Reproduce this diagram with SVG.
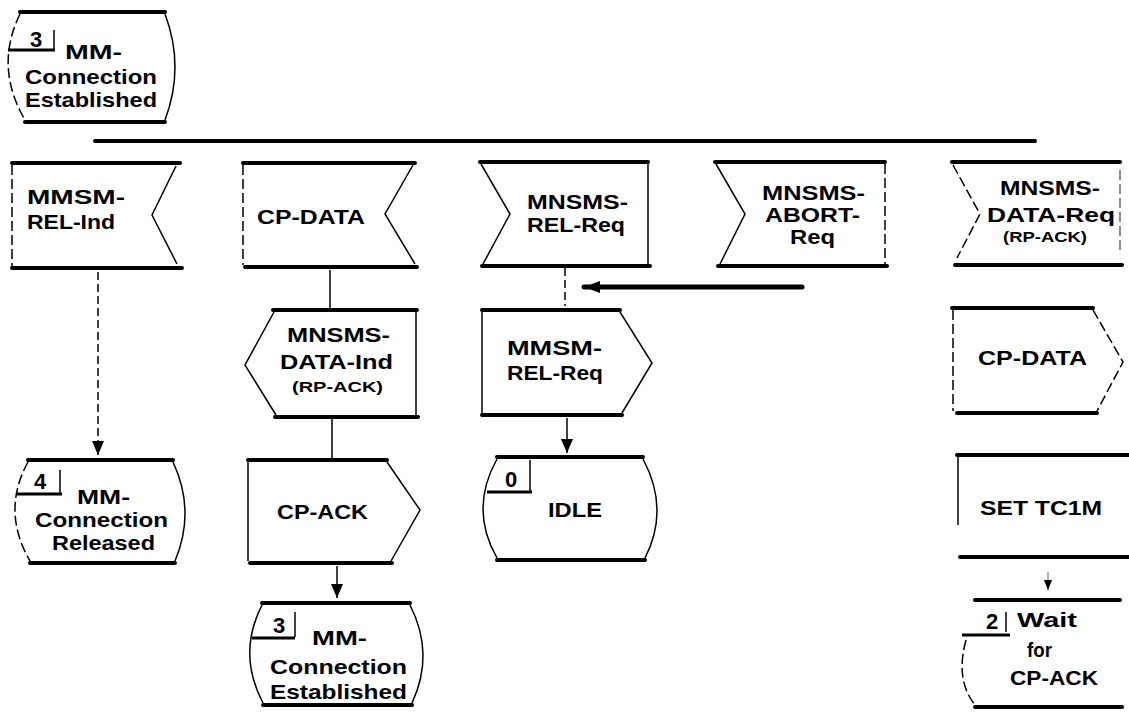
<svg xmlns="http://www.w3.org/2000/svg" width="1129" height="716" viewBox="0 0 1129 716">
<style>
.bg{fill:#fff}
.hb{stroke:#000;stroke-width:4;fill:none;stroke-linecap:round}
.sd{stroke:#000;stroke-width:1.5;fill:none}
.sdd{stroke:#000;stroke-width:1.5;fill:none;stroke-dasharray:10 4}
.lb{stroke:#000;stroke-width:3;fill:none}
.t{font-family:"Liberation Sans",Arial,sans-serif;font-weight:bold;font-size:21px;fill:#000}
.ts{font-family:"Liberation Sans",Arial,sans-serif;font-weight:bold;font-size:15px;fill:#000}
.tn{font-family:"Liberation Sans",Arial,sans-serif;font-weight:bold;font-size:22px;fill:#000}
.cn{stroke:#000;stroke-width:1.5;fill:none}
.cnd{stroke:#000;stroke-width:1.5;fill:none;stroke-dasharray:8 4}
</style>
<defs>
<marker id="ah" markerUnits="userSpaceOnUse" markerWidth="14" markerHeight="12" viewBox="0 0 14 12" refX="14" refY="6" orient="auto">
<path d="M0,0 L14,6 L0,12 Z" fill="#000"/>
</marker>
<marker id="ahl" markerUnits="userSpaceOnUse" markerWidth="16" markerHeight="12" viewBox="0 0 16 12" refX="0" refY="6" orient="0">
<path d="M16,0 L16,12 L0,6 Z" fill="#000"/>
</marker>
</defs>
<rect class="bg" x="0" y="0" width="1129" height="716"/>

<g id="connectors">
<path class="hb" d="M95,141 H1035"/>
<path class="cnd" d="M98,272 V455" marker-end="url(#ah)"/>
<path class="cn" d="M330,270 V308"/>
<path class="cn" d="M332,419 V458"/>
<path class="cn" d="M337,566 V598" marker-end="url(#ah)"/>
<path class="cnd" d="M565,268 V306"/>
<path d="M802,287 H584" stroke="#000" stroke-width="5" fill="none" stroke-linecap="round" marker-end="url(#ahl)"/>
<path class="cn" d="M567,418 V453" marker-end="url(#ah)"/>
<path class="cn" d="M1048,572 V590" stroke-opacity="0.4"/>
<path d="M1044,580 L1052,580 L1048,590 Z" fill="#000"/>
</g>

<g id="state-3-top">
<path class="hb" d="M20,12 H165"/>
<path class="hb" d="M25,122 H165"/>
<path class="sdd" d="M20,14 Q-6,67 25,120"/>
<path class="sd" d="M165,14 Q185,67 165,120"/>
<path class="lb" d="M8,50 H55"/>
<path class="sd" d="M54,30 V49"/>
<text class="tn" x="36" y="47" text-anchor="middle">3</text>
<text class="t" x="65" y="59" textLength="57" lengthAdjust="spacingAndGlyphs">MM-</text>
<text class="t" x="25" y="84" textLength="132" lengthAdjust="spacingAndGlyphs">Connection</text>
<text class="t" x="25" y="107" textLength="132" lengthAdjust="spacingAndGlyphs">Established</text>
</g>

<g id="in-mmsm-rel-ind">
<path class="hb" d="M12,163 H180"/>
<path class="hb" d="M12,268 H182"/>
<path class="sdd" d="M12,165 V266"/>
<path class="sd" d="M176,166 L152,215 L177,264"/>
<text class="t" x="27" y="204" textLength="98" lengthAdjust="spacingAndGlyphs">MMSM-</text>
<text class="t" x="27" y="229" textLength="88" lengthAdjust="spacingAndGlyphs">REL-Ind</text>
</g>

<g id="in-cp-data">
<path class="hb" d="M243,163 H415"/>
<path class="hb" d="M245,267 H417"/>
<path class="sdd" d="M243,165 V265"/>
<path class="sd" d="M413,165 L385,214 L415,264"/>
<text class="t" x="257" y="224" textLength="108" lengthAdjust="spacingAndGlyphs">CP-DATA</text>
</g>

<g id="in-mnsms-rel-req">
<path class="hb" d="M480,162 H648"/>
<path class="hb" d="M482,266 H650"/>
<path class="sd" d="M648,164 V264"/>
<path class="sd" d="M481,164 L510,214 L483,264"/>
<text class="t" x="527" y="209" textLength="101" lengthAdjust="spacingAndGlyphs">MNSMS-</text>
<text class="t" x="527" y="232" textLength="98" lengthAdjust="spacingAndGlyphs">REL-Req</text>
</g>

<g id="in-mnsms-abort-req">
<path class="hb" d="M715,162 H885"/>
<path class="hb" d="M718,266 H887"/>
<path class="sdd" d="M885,164 V264"/>
<path class="sd" d="M716,164 L745,214 L720,264"/>
<text class="t" x="762" y="200" textLength="103" lengthAdjust="spacingAndGlyphs">MNSMS-</text>
<text class="t" x="765" y="222" textLength="95" lengthAdjust="spacingAndGlyphs">ABORT-</text>
<text class="t" x="790" y="244" textLength="45" lengthAdjust="spacingAndGlyphs">Req</text>
</g>

<g id="in-mnsms-data-req">
<path class="hb" d="M952,162 H1120"/>
<path class="hb" d="M955,265 H1122"/>
<path class="sdd" d="M1120,170 V250" stroke-opacity="0.6"/>
<path class="sdd" d="M953,165 L980,214 L957,258"/>
<text class="t" x="1000" y="195" textLength="100" lengthAdjust="spacingAndGlyphs">MNSMS-</text>
<text class="t" x="987" y="222" textLength="128" lengthAdjust="spacingAndGlyphs">DATA-Req</text>
<text class="ts" x="1003" y="242" textLength="84" lengthAdjust="spacingAndGlyphs">(RP-ACK)</text>
</g>

<g id="out-mmsm-rel-req">
<path class="hb" d="M482,310 H620"/>
<path class="hb" d="M482,415 H622"/>
<path class="sd" d="M482,312 V413"/>
<path class="sd" d="M620,312 L652,363 L622,413"/>
<text class="t" x="507" y="355" textLength="95" lengthAdjust="spacingAndGlyphs">MMSM-</text>
<text class="t" x="507" y="380" textLength="96" lengthAdjust="spacingAndGlyphs">REL-Req</text>
</g>

<g id="out-mnsms-data-ind">
<path class="hb" d="M273,310 H417"/>
<path class="hb" d="M275,417 H418"/>
<path class="sd" d="M416,312 V415"/>
<path class="sd" d="M274,312 L245,365 L276,415"/>
<text class="t" x="287" y="342" textLength="103" lengthAdjust="spacingAndGlyphs">MNSMS-</text>
<text class="t" x="280" y="369" textLength="113" lengthAdjust="spacingAndGlyphs">DATA-Ind</text>
<text class="ts" x="292" y="392" textLength="91" lengthAdjust="spacingAndGlyphs">(RP-ACK)</text>
</g>

<g id="out-cp-ack">
<path class="hb" d="M248,460 H387"/>
<path class="hb" d="M250,563 H392"/>
<path class="sd" d="M248,462 V561"/>
<path class="sd" d="M387,462 L420,510 L391,561"/>
<text class="t" x="277" y="519" textLength="91" lengthAdjust="spacingAndGlyphs">CP-ACK</text>
</g>

<g id="state-4">
<path class="hb" d="M28,460 H173"/>
<path class="hb" d="M30,563 H175"/>
<path class="sdd" d="M28,462 Q1,511 30,561"/>
<path class="sd" d="M173,462 Q196,511 175,561"/>
<path class="lb" d="M17,494 H62"/>
<path class="sd" d="M60,470 V493"/>
<text class="tn" x="40" y="489" text-anchor="middle">4</text>
<text class="t" x="77" y="504" textLength="53" lengthAdjust="spacingAndGlyphs">MM-</text>
<text class="t" x="35" y="527" textLength="133" lengthAdjust="spacingAndGlyphs">Connection</text>
<text class="t" x="52" y="550" textLength="103" lengthAdjust="spacingAndGlyphs">Released</text>
</g>

<g id="state-0">
<path class="hb" d="M497,457 H643"/>
<path class="hb" d="M497,560 H645"/>
<path class="sd" d="M497,459 Q469,509 497,558"/>
<path class="sd" d="M643,459 Q670,509 645,558"/>
<path class="lb" d="M487,492 H532"/>
<path class="sd" d="M530,460 V491"/>
<text class="tn" x="511" y="487" text-anchor="middle">0</text>
<text class="t" x="548" y="517" textLength="54" lengthAdjust="spacingAndGlyphs">IDLE</text>
</g>

<g id="state-3-bottom">
<path class="hb" d="M262,603 H410"/>
<path class="hb" d="M263,705 H412"/>
<path class="sd" d="M262,605 Q237,654 263,703"/>
<path class="sd" d="M410,605 Q435,654 412,703"/>
<path class="lb" d="M252,638 H295"/>
<path class="sd" d="M295,612 V637"/>
<text class="tn" x="279" y="633" text-anchor="middle">3</text>
<text class="t" x="312" y="645" textLength="55" lengthAdjust="spacingAndGlyphs">MM-</text>
<text class="t" x="270" y="674" textLength="137" lengthAdjust="spacingAndGlyphs">Connection</text>
<text class="t" x="270" y="699" textLength="137" lengthAdjust="spacingAndGlyphs">Established</text>
</g>

<g id="out-cp-data">
<path class="hb" d="M952,308 H1093"/>
<path class="hb" d="M957,413 H1097"/>
<path class="sdd" d="M953,310 V411"/>
<path class="sdd" d="M1093,310 L1123,362 L1097,411"/>
<text class="t" x="978" y="365" textLength="109" lengthAdjust="spacingAndGlyphs">CP-DATA</text>
</g>

<g id="task-set-tc1m">
<path class="hb" d="M957,455 H1129"/>
<path class="hb" d="M960,557 H1129"/>
<path class="sd" d="M958,457 V525"/>
<text class="t" x="980" y="515" textLength="122" lengthAdjust="spacingAndGlyphs">SET TC1M</text>
</g>

<g id="state-2">
<path class="hb" d="M975,600 H1120"/>
<path class="hb" d="M975,707 H1122"/>
<path class="sdd" d="M966,640 Q955,680 975,705"/>
<path class="lb" d="M962,635 H1010"/>
<path class="sd" d="M1006,612 V632"/>
<text class="tn" x="992" y="629" text-anchor="middle">2</text>
<text class="t" x="1017" y="627" textLength="60" lengthAdjust="spacingAndGlyphs">Wait</text>
<text class="t" x="1027" y="657" textLength="25" lengthAdjust="spacingAndGlyphs">for</text>
<text class="t" x="1010" y="685" textLength="88" lengthAdjust="spacingAndGlyphs">CP-ACK</text>
</g>
</svg>
